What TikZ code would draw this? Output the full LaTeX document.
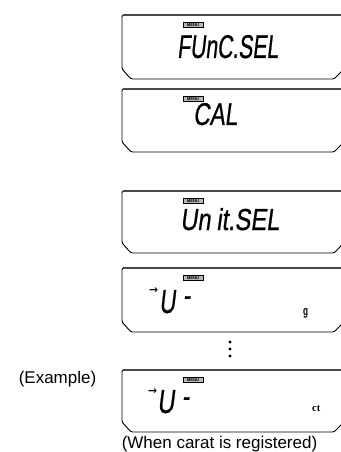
\documentclass[tikz,border=0pt]{standalone}
\usepackage{fontspec}
\usepackage{graphicx}
\setmainfont{Liberation Sans}
\newfontfamily\segfont[FakeSlant=0.18,FakeBold=0.8]{Liberation Sans}
\newfontfamily\ctfont{Liberation Serif}
\newfontfamily\symfont{DejaVu Sans}
\usepackage{xcolor}
\definecolor{lcdgray}{HTML}{4A4A4A}
\definecolor{tagfill}{HTML}{B8B8B8}
\newdimen\lcdpx \lcdpx=0.03cm
% fit a reading into w x h picture pixels
\newcommand{\lcdfit}[3]{\resizebox{#1\lcdpx}{#2\lcdpx}{#3}}

\begin{document}
\begin{tikzpicture}[x=0.03cm,y=-0.03cm,
  lcdline/.style={draw=black,line width=0.8pt,line join=round,rounded corners=1.2pt},
  topline/.style={draw=lcdgray,line width=1.7pt},
  menutag/.style={draw=black,fill=tagfill,line width=0.3pt,inner sep=0pt,minimum width=0.6cm,minimum height=0.14cm,font=\fontsize{3.6}{4}\selectfont\bfseries},
  seg/.style={font=\segfont\fontsize{27}{28}\selectfont,inner sep=0pt,anchor=base west},
  segbar/.style={font=\segfont\bfseries\fontsize{27}{27}\selectfont,inner sep=0pt,anchor=base west},
  pointer/.style={font=\symfont\bfseries\fontsize{9.5}{10}\selectfont,inner sep=0pt},
  caption/.style={font=\fontsize{14.5}{16}\selectfont,inner sep=0pt}
]
\useasboundingbox (0,0) rectangle (341,452);
\clip (0,0) rectangle (341,452);

% display frames
\foreach \t/\b [count=\i] in {15/79,89/152,191/253,268/332,370/432}{
  \draw[lcdline] (345,\t) -- (122,\t) -- (122,\b-10) -- (131,\b) -- (334,\b) -- (342,\b-8) -- (342,\t);
  \draw[topline] (345,\t) -- (123,\t);
  \node[menutag] (menu\i) at (193,\t+10) {MENU};
}

% display readings
\node[seg] (fncsel) at (177,58) {\lcdfit{101}{23}{FUnC.SEL}};
\node[seg] (cal) at (193,125) {\lcdfit{44}{22}{CAL}};
\node[seg] (unitsel) at (180,230) {\lcdfit{99}{22}{Un\hspace{0.25em}it.SEL}};

\node[pointer] (ptrg) at (153.5,291) {\resizebox{9\lcdpx}{!}{→}};
\node[seg] (ug) at (159,313) {\lcdfit{16}{23}{U}};
\node[segbar] (barg) at (183,303) {\resizebox{7\lcdpx}{!}{-}};
\node[font=\bfseries,inner sep=0pt,anchor=base west] (gram) at (303,315) {\lcdfit{5}{7}{g}};

\node[pointer] (ptrct) at (152.5,392) {\resizebox{9\lcdpx}{!}{→}};
\node[seg] (uct) at (157,413) {\lcdfit{17}{23}{U}};
\node[segbar] (barct) at (182,404) {\resizebox{7\lcdpx}{!}{-}};
\node[font=\ctfont\bfseries,inner sep=0pt,anchor=base west] (carat) at (312,411) {\lcdfit{8}{6}{ct}};

% more units between
\foreach \y in {342,349,356} \fill (230,\y) circle (1.7);

\node[caption] (example) at (57.5,379) {(Example)};
\node[caption] (when) at (219.5,444) {(When carat is registered)};
\end{tikzpicture}
\end{document}
